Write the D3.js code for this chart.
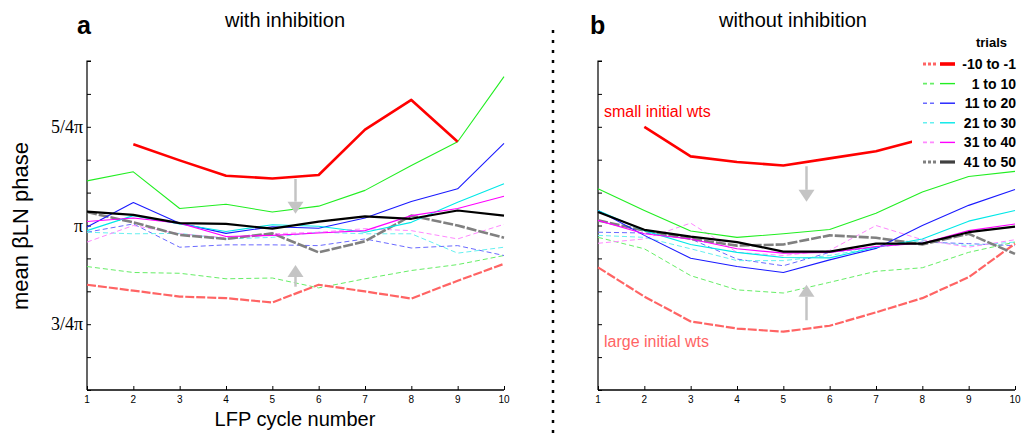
<!DOCTYPE html>
<html><head><meta charset="utf-8">
<script src="https://cdn.jsdelivr.net/npm/d3@7"></script>
<style>body{margin:0;background:#fff}svg{display:block}</style>
</head><body>
<svg id="c" width="1021" height="433"></svg>
<script>
// ---------- DATA (phase in units of pi) ----------
const cycles = [1,2,3,4,5,6,7,8,9,10];
const trialLabels = ["-10 to -1","1 to 10","11 to 20","21 to 30","31 to 40","41 to 50"];
const yTickValues = [7,8,9,10,11,12,13,14,15,16,17];          // in pi/12
const yTickLabels = {9:"3/4\u03c0", 12:"\u03c0", 15:"5/4\u03c0"};

// panel a: with inhibition  (solid = small initial wts, dashed = large initial wts)
const aSolidM10 = [null,1.206,1.165,1.126,1.119,1.128,1.243,1.318,1.212,null];
const aSolid1   = [1.113,1.136,1.043,1.054,1.034,1.049,1.089,1.152,1.212,1.377];
const aSolid11  = [0.996,1.058,1.006,0.980,0.997,0.993,1.019,1.061,1.093,1.208];
const aSolid21  = [0.987,1.025,1.004,0.985,1.002,0.998,0.983,1.008,1.059,1.106];
const aSolid31  = [1.010,1.019,1.006,0.972,0.975,0.981,0.987,1.025,1.043,1.074];
const aSolid41  = [1.035,1.027,1.006,1.004,0.992,1.010,1.023,1.017,1.038,1.025];
const aDashM10  = [0.850,0.835,0.820,0.816,0.805,0.850,0.833,0.815,0.860,0.903];
const aDash1    = [0.896,0.881,0.879,0.865,0.867,0.842,0.865,0.886,0.901,0.924];
const aDash11   = [0.983,1.004,0.945,0.951,0.951,0.949,0.966,0.943,0.949,0.924];
const aDash21   = [0.983,0.979,0.980,0.966,0.970,0.983,0.979,0.979,0.930,0.945];
const aDash31   = [0.958,1.000,0.979,0.969,0.979,0.983,0.992,0.987,0.966,1.003];
const aDash41   = [1.034,1.008,0.976,0.966,0.980,0.932,0.960,1.025,1.000,0.969];

// panel b: without inhibition
const bSolidM10 = [null,1.250,1.175,1.161,1.152,1.170,1.188,1.219,null,null];
const bSolid1   = [1.093,1.038,0.986,0.970,0.979,0.990,1.031,1.085,1.124,1.137];
const bSolid11  = [1.038,0.975,0.917,0.896,0.881,0.913,0.942,1.000,1.051,1.091];
const bSolid21  = [1.038,0.987,0.952,0.932,0.919,0.918,0.945,0.966,1.011,1.038];
const bSolid31  = [1.013,0.979,0.966,0.941,0.930,0.932,0.947,0.955,0.987,1.004];
const bSolid41  = [1.034,0.989,0.972,0.958,0.934,0.934,0.954,0.954,0.983,0.997];
const bDashM10  = [0.894,0.820,0.757,0.739,0.731,0.746,0.780,0.816,0.869,0.954];
const bDash1    = [0.970,0.941,0.873,0.837,0.829,0.856,0.884,0.893,0.932,0.958];
const bDash11   = [0.983,0.981,0.966,0.915,0.898,0.932,0.945,0.958,0.954,0.949];
const bDash21   = [0.975,0.970,0.941,0.911,0.911,0.924,0.945,0.962,0.949,0.958];
const bDash31   = [0.955,0.966,1.006,0.932,0.924,0.937,1.000,0.964,0.945,0.964];
const bDash41   = [1.013,0.987,0.966,0.949,0.952,0.975,0.969,0.952,0.979,0.928];

// arrows: [x, from, to] in data units
const aArrows = [[5.5,1.118,1.030],[5.5,0.845,0.900]];
const bArrows = [[5.5,1.150,1.060],[5.5,0.760,0.850]];

// ---------- STYLES ----------
const solidStyles = [
  {c:"#ff0000", w:2.6}, {c:"#22ee22", w:1.1}, {c:"#1a1aff", w:1.1},
  {c:"#00e8e8", w:1.1}, {c:"#ff00ff", w:1.1}, {c:"#000000", w:2.2}];
const dashStyles = [
  {c:"#ff6464", w:2.2, d:"9,2"}, {c:"#66ee66", w:1, d:"5,3"}, {c:"#6a6aff", w:1, d:"5,3"},
  {c:"#66f0f0", w:1, d:"5,3"}, {c:"#ff88ff", w:1, d:"5,3"}, {c:"#808080", w:2.6, d:"10,2"}];

const svg = d3.select("#c");
const yTop = 61, yBot = 390;
const y = d3.scaleLinear().domain([7/12, 17/12]).range([yBot, yTop]);

function panel(x0, x1, solids, dashes, arrows, showYLabels) {
  const x = d3.scaleLinear().domain([1,10]).range([x0, x1]);
  const g = svg.append("g");
  // axes
  const yAxis = d3.axisRight(y).tickValues(yTickValues.map(k=>k/12)).tickSize(4).tickFormat("");
  g.append("g").attr("transform",`translate(${x0},0)`).call(yAxis)
    .call(s=>s.select(".domain").attr("d",`M4,${yTop}H0V${yBot}`).attr("stroke","#000").attr("stroke-width",1.2));
  const xAxis = d3.axisTop(x).tickValues(cycles).tickSize(4).tickFormat("");
  g.append("g").attr("transform",`translate(0,${yBot})`).call(xAxis)
    .call(s=>s.select(".domain").attr("d",`M${x0},0H${x1}`).attr("stroke","#000").attr("stroke-width",1.5));
  g.selectAll("text.xt").data(cycles).enter().append("text")
    .attr("x",d=>x(d)).attr("y",yBot+13).attr("text-anchor","middle")
    .attr("font-family","Liberation Sans, Arial").attr("font-size",10).text(d=>d);
  if (showYLabels) {
    g.selectAll("text.yt").data(yTickValues.filter(k=>yTickLabels[k])).enter().append("text")
      .attr("x",x0-4).attr("y",k=>y(k/12)+6).attr("text-anchor","end")
      .attr("font-family","Liberation Serif, Times New Roman").attr("font-size",18).text(k=>yTickLabels[k]);
  }
  const line = d3.line().defined(d=>d[1]!==null).x(d=>x(d[0])).y(d=>y(d[1]));
  const draw = (arr, st) => g.append("path").datum(cycles.map((c,i)=>[c,arr[i]]))
      .attr("d",line).attr("fill","none").attr("stroke",st.c).attr("stroke-width",st.w)
      .attr("stroke-dasharray",st.d||null).attr("stroke-linejoin","round");
  [1,2,3,4,0,5].forEach(i=>draw(dashes[i], dashStyles[i]));
  [1,2,3,4,5,0].forEach(i=>draw(solids[i], solidStyles[i]));
  // arrows
  arrows.forEach(a=>{
    const ax = x(a[0]), yf = y(a[1]), yt = y(a[2]);
    const dir = yt > yf ? 1 : -1;
    const hb = yt - dir*12;
    g.append("line").attr("x1",ax).attr("x2",ax).attr("y1",yf).attr("y2",hb)
      .attr("stroke","#c4c4c4").attr("stroke-width",2.5);
    g.append("path").attr("d",`M${ax-8},${hb}L${ax+8},${hb}L${ax},${yt}Z`).attr("fill","#c4c4c4");
  });
  return x;
}

panel(87, 504,
  [aSolidM10,aSolid1,aSolid11,aSolid21,aSolid31,aSolid41],
  [aDashM10,aDash1,aDash11,aDash21,aDash31,aDash41], aArrows, true);
panel(598, 1015,
  [bSolidM10,bSolid1,bSolid11,bSolid21,bSolid31,bSolid41],
  [bDashM10,bDash1,bDash11,bDash21,bDash31,bDash41], bArrows, false);

// titles
const sans = "Liberation Sans, Arial, Helvetica";
svg.append("text").attr("x",77).attr("y",34).attr("font-family",sans).attr("font-weight","bold").attr("font-size",25).text("a");
svg.append("text").attr("x",590).attr("y",34).attr("font-family",sans).attr("font-weight","bold").attr("font-size",25).text("b");
svg.append("text").attr("x",285).attr("y",27).attr("text-anchor","middle").attr("font-family",sans).attr("font-size",20).text("with inhibition");
svg.append("text").attr("x",793).attr("y",27).attr("text-anchor","middle").attr("font-family",sans).attr("font-size",20).text("without inhibition");
svg.append("text").attr("x",295).attr("y",426).attr("text-anchor","middle").attr("font-family",sans).attr("font-size",20).text("LFP cycle number");
svg.append("text").attr("transform","translate(28,226) rotate(-90)").attr("text-anchor","middle")
  .attr("font-family",sans).attr("font-size",22).text("mean \u03b2LN phase");

// annotations
svg.append("text").attr("x",604).attr("y",117).attr("font-family",sans).attr("font-size",16).attr("fill","#ff0000").text("small initial wts");
svg.append("text").attr("x",604).attr("y",347).attr("font-family",sans).attr("font-size",16).attr("fill","#ff6464").text("large initial wts");

// divider
svg.append("line").attr("x1",553).attr("x2",553).attr("y1",30).attr("y2",433)
  .attr("stroke","#000").attr("stroke-width",2.5).attr("stroke-dasharray","3,7");

// legend
const lg = svg.append("g");
lg.append("rect").attr("x",912).attr("y",30).attr("width",109).attr("height",136).attr("fill","#fff");
lg.append("text").attr("x",1007).attr("y",47).attr("text-anchor","end").attr("font-family",sans)
  .attr("font-weight","bold").attr("font-size",13).text("trials");
trialLabels.forEach((t,i)=>{
  const ly = 64 + i*19.6;
  lg.append("line").attr("x1",923).attr("x2",936).attr("y1",ly).attr("y2",ly)
    .attr("stroke",dashStyles[i].c).attr("stroke-width",dashStyles[i].w+0.6).attr("stroke-dasharray", i==0||i==5?"3,2":"4,3");
  lg.append("line").attr("x1",940).attr("x2",955).attr("y1",ly).attr("y2",ly)
    .attr("stroke",i==5?"#404040":solidStyles[i].c).attr("stroke-width",solidStyles[i].w+(i==0||i==5?1:0.3));
  lg.append("text").attr("x",1016).attr("y",ly+5).attr("text-anchor","end").attr("font-family",sans)
    .attr("font-weight","bold").attr("font-size",14).text(t);
});
</script>
</body></html>
